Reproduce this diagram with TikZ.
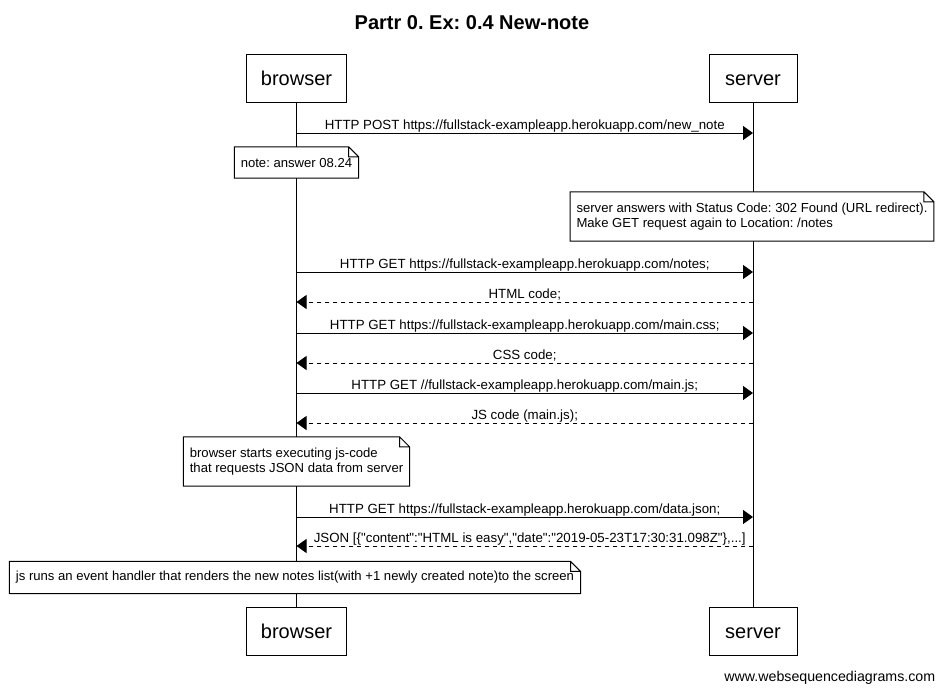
\documentclass[tikz,border=0pt]{standalone}
\usepackage{fontspec}
\setmainfont{Liberation Sans}
\usetikzlibrary{calc,arrows.meta}
\frenchspacing
\tikzset{actor/.style={draw,minimum width=#1,minimum height=48pt,inner sep=0pt,
    text height=15pt,text depth=1pt,font=\fontsize{20}{24}\selectfont},
    note/.style={fill=white,align=left,inner xsep=6pt,inner ysep=10.5pt,
    font=\fontsize{13.1}{15}\selectfont}}
\newcommand\foldnote[1]{\draw (#1.north west) -- ($(#1.north east)+(-10,0)$)
    -- ($(#1.north east)+(0,10)$) -- (#1.south east) -- (#1.south west) -- cycle
    ($(#1.north east)+(-10,0)$) |- ($(#1.north east)+(0,10)$);}
\newcommand\qt{\textquotedbl}

\begin{document}
\begin{tikzpicture}[x=1pt,y=-1pt,line width=1pt,
        msg/.style={-{Triangle[length=10pt,width=14pt]}},
        reply/.style={dash pattern=on 4pt off 4pt},
        lbl/.style={above=0pt,midway,inner sep=0pt,text height=10pt,text depth=3pt,
            font=\fontsize{13.3}{15}\selectfont}]
        \useasboundingbox (0,0) rectangle (944,689);

        \node[font=\bfseries\fontsize{20}{24}\selectfont,anchor=base] (title) at (472,29)
            {Partr 0. Ex: 0.4 New-note};

        \node[actor=100pt] (browser) at (296.5,78) {browser};
        \node[actor=88pt] (server) at (753,78) {server};
        \node[actor=100pt] (browserEnd) at (296.5,631) {browser};
        \node[actor=88pt] (serverEnd) at (753,631) {server};

        \draw (browser.south) -- (browserEnd.north);
        \draw (server.south) -- (serverEnd.north);

        \foreach \n/\y in {post/133,notes/272,html/302,css/333,cssr/363,js/393,jsr/423,data/517,json/546}
        {
            \coordinate (b-\n) at (browser |- 0,\y);
            \coordinate (s-\n) at (server |- 0,\y);
        }

        \path[msg]
        (b-post) edge node[lbl] {HTTP POST https://fullstack-exampleapp.herokuapp.com/new\_note} (s-post)
        (b-notes) edge node[lbl] {HTTP GET https://fullstack-exampleapp.herokuapp.com/notes;} (s-notes)
        (s-html) edge[reply] node[lbl] {HTML code;} (b-html)
        (b-css) edge node[lbl] {HTTP GET https://fullstack-exampleapp.herokuapp.com/main.css;} (s-css)
        (s-cssr) edge[reply] node[lbl] {CSS code;} (b-cssr)
        (b-js) edge node[lbl] {HTTP GET //fullstack-exampleapp.herokuapp.com/main.js;} (s-js)
        (s-jsr) edge[reply] node[lbl] {JS code (main.js);} (b-jsr)
        (b-data) edge node[lbl] {HTTP GET https://fullstack-exampleapp.herokuapp.com/data.json;} (s-data)
        (s-json) edge[reply] node[lbl,xshift=5pt]
            {JSON [\{\qt content\qt:\qt HTML is easy\qt,\qt date\qt:\qt 2019-05-23T17:30:31.098Z\qt\},...]} (b-json);

        \node[note] (answer) at (browser |- 0,162.5) {note: answer 08.24};
        \node[note] (redirect) at (752,216.5)
            {server answers with Status Code: 302 Found (URL redirect).\\Make GET request again to Location: /notes};
        \node[note] (executes) at (browser |- 0,461.5)
            {browser starts executing js-code\\that requests JSON data from server};
        \node[note,inner ysep=9.5pt] (renders) at (295,577.5)
            {js runs an event handler that renders the new notes list(with +1 newly created note)to the screen};
        \foldnote{answer}
        \foldnote{redirect}
        \foldnote{executes}
        \foldnote{renders}

        \node[anchor=base east,font=\fontsize{14.2}{16}\selectfont] (credit) at (939,681)
            {www.websequencediagrams.com};
\end{tikzpicture}
\end{document}
